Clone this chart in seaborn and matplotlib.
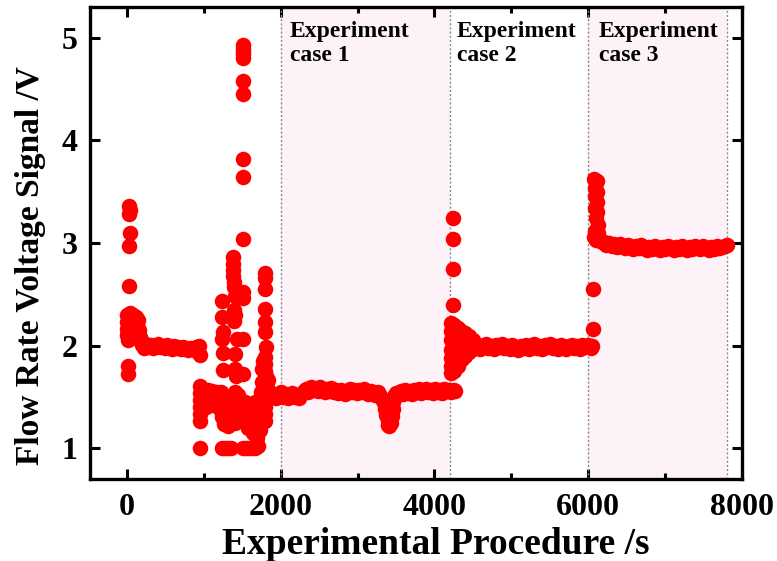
import matplotlib
matplotlib.use("Agg")
import matplotlib.pyplot as plt
import pandas as pd
import seaborn as sns

# ---------------- data (time s, voltage V) ----------------
startup = [(30, 3.36), (35, 3.32), (30, 3.28), (35, 3.10), (30, 2.97), (30, 2.58),
           (15, 1.80), (10, 1.72),
           (0, 2.30), (0, 2.23), (5, 2.16), (5, 2.10), (10, 2.05),
           (40, 2.32), (45, 2.25), (40, 2.18), (45, 2.12),
           (80, 2.30), (85, 2.22), (80, 2.15), (85, 2.09),
           (120, 2.28), (125, 2.21), (120, 2.14), (125, 2.08),
           (150, 2.25), (160, 2.15), (170, 2.08), (185, 2.04), (200, 2.01)]

plateau_1 = [(220, 1.98), (250, 2.02), (280, 1.99), (310, 2.01), (340, 1.98), (370, 2.00),
             (400, 2.02), (430, 1.99), (460, 2.00), (490, 1.98), (520, 2.01), (550, 1.99),
             (580, 1.97), (610, 2.00), (640, 1.98), (670, 1.99), (700, 1.97), (730, 1.99),
             (760, 1.98), (790, 1.96), (820, 1.98), (850, 1.97), (880, 1.96), (900, 1.99),
             (920, 1.94), (940, 2.00), (950, 1.91)]

transition = [
    (945, 1.61), (950, 1.54), (945, 1.47), (950, 1.40), (955, 1.33), (950, 1.27), (950, 1.00),
    (990, 1.56), (1020, 1.53), (1050, 1.57), (1080, 1.54), (1110, 1.56), (1140, 1.53),
    (1170, 1.55), (1200, 1.52),
    (1000, 1.45), (1030, 1.40), (1060, 1.46), (1120, 1.42), (1200, 1.44), (1220, 1.36),
    (1240, 1.30), (1260, 1.24), (1280, 1.45), (1300, 1.35), (1310, 1.22), (1340, 1.28),
    (1360, 1.40), (1380, 1.32), (1400, 1.25), (1420, 1.45), (1440, 1.36), (1460, 1.28),
    (1480, 1.42), (1230, 1.55), (1260, 1.50), (1330, 1.50), (1400, 1.55), (1450, 1.52),
    (1235, 2.43), (1240, 2.28), (1245, 2.13), (1240, 2.06), (1250, 1.93), (1245, 1.76),
    (1380, 2.86), (1385, 2.80), (1380, 2.74), (1385, 2.68), (1390, 2.62), (1390, 2.57),
    (1400, 2.48), (1395, 2.35), (1405, 2.30), (1395, 2.24), (1430, 2.06), (1410, 1.92),
    (1400, 1.77), (1420, 1.70),
    (1505, 4.93), (1510, 4.90), (1505, 4.87), (1510, 4.84), (1505, 4.80), (1505, 4.58),
    (1510, 4.45), (1505, 3.82), (1505, 3.64), (1510, 3.04), (1505, 2.52), (1510, 2.46),
    (1515, 2.06), (1510, 1.72),
    (1240, 1.00), (1280, 1.00), (1320, 1.00), (1350, 1.00), (1510, 1.00), (1550, 1.00),
    (1590, 1.00), (1630, 1.00), (1670, 1.00), (1700, 1.02), (1730, 1.18), (1690, 1.10),
    (1530, 1.45), (1550, 1.30), (1570, 1.20), (1600, 1.38), (1620, 1.25), (1640, 1.15),
    (1660, 1.45), (1680, 1.32), (1700, 1.22), (1720, 1.40), (1740, 1.55), (1750, 1.30),
    (1760, 1.65), (1770, 1.45),
    (1795, 2.71), (1800, 2.66), (1795, 2.55), (1800, 2.36), (1795, 2.23), (1800, 2.13),
    (1805, 1.99), (1790, 1.89), (1800, 1.82), (1790, 1.75), (1810, 1.70), (1795, 1.64),
    (1810, 1.58), (1790, 1.52), (1805, 1.46), (1795, 1.40), (1790, 1.33), (1800, 1.27),
    (1820, 1.60), (1830, 1.55), (1830, 1.66), (1760, 1.77), (1770, 1.85)]

case_1 = [(1850, 1.55), (1880, 1.50), (1910, 1.53), (1940, 1.49), (1970, 1.52), (2000, 1.55),
          (2030, 1.50), (2060, 1.53), (2090, 1.49), (2120, 1.52), (2150, 1.54), (2180, 1.50),
          (2210, 1.52), (2240, 1.49), (2270, 1.53), (2300, 1.56), (2330, 1.58), (2360, 1.55),
          (2390, 1.60), (2420, 1.57), (2450, 1.59), (2480, 1.56), (2510, 1.60), (2540, 1.58),
          (2570, 1.55), (2600, 1.58), (2630, 1.56), (2660, 1.59), (2690, 1.55), (2720, 1.57),
          (2750, 1.54), (2780, 1.57), (2810, 1.55), (2840, 1.53), (2870, 1.56), (2900, 1.58),
          (2930, 1.55), (2960, 1.57), (2990, 1.54), (3020, 1.57), (3050, 1.55), (3080, 1.58),
          (3110, 1.55), (3140, 1.53), (3170, 1.56), (3200, 1.54), (3230, 1.52), (3260, 1.55),
          (3290, 1.51), (3320, 1.48), (3340, 1.44), (3360, 1.38), (3375, 1.32), (3390, 1.27),
          (3400, 1.23), (3415, 1.22), (3430, 1.25), (3445, 1.31), (3455, 1.38), (3465, 1.45),
          (3480, 1.51), (3500, 1.54), (3530, 1.52), (3560, 1.56), (3590, 1.53), (3620, 1.57),
          (3650, 1.54), (3680, 1.56), (3710, 1.53), (3740, 1.57), (3770, 1.55), (3800, 1.58),
          (3830, 1.54), (3860, 1.56), (3890, 1.58), (3920, 1.55), (3950, 1.57), (3980, 1.54),
          (4010, 1.58), (4040, 1.55), (4070, 1.57), (4100, 1.54), (4130, 1.58), (4160, 1.56),
          (4190, 1.57), (4220, 1.55), (4250, 1.57), (4270, 1.56)]

case_2 = [(4240, 3.24), (4240, 3.04), (4235, 2.75), (4240, 2.40),
          (4210, 2.22), (4215, 2.14), (4210, 2.05), (4215, 1.96), (4210, 1.88), (4215, 1.80),
          (4210, 1.73), (4250, 2.20), (4255, 2.10), (4250, 2.00), (4255, 1.90), (4250, 1.82),
          (4260, 1.75), (4300, 2.17), (4300, 2.08), (4305, 1.98), (4300, 1.89), (4310, 1.80),
          (4350, 2.14), (4355, 2.05), (4350, 1.96), (4355, 1.87), (4400, 2.12), (4400, 2.04),
          (4405, 1.96), (4400, 1.90), (4450, 2.09), (4455, 2.01), (4450, 1.94), (4500, 2.05),
          (4500, 1.97), (4530, 2.02),
          (4560, 2.01), (4595, 1.97), (4630, 2.00), (4665, 2.02), (4700, 1.98), (4735, 2.00),
          (4770, 1.97), (4805, 2.01), (4840, 1.99), (4875, 2.02), (4910, 1.98), (4945, 2.00),
          (4980, 1.97), (5015, 2.01), (5050, 1.99), (5085, 1.96), (5120, 2.00), (5155, 1.98),
          (5190, 2.01), (5225, 1.97), (5260, 2.00), (5295, 2.02), (5330, 1.98), (5365, 2.00),
          (5400, 1.97), (5435, 2.01), (5470, 1.99), (5505, 2.02), (5540, 1.98), (5575, 2.00),
          (5610, 1.97), (5645, 2.01), (5680, 1.99), (5715, 1.97), (5750, 2.00), (5785, 2.01),
          (5820, 1.98), (5855, 2.00), (5890, 1.97), (5925, 2.01), (5960, 1.99), (5995, 2.01),
          (6030, 1.98), (6050, 2.00)]

case_3 = [(6060, 2.55), (6065, 2.16),
          (6080, 3.62), (6110, 3.60), (6090, 3.54), (6120, 3.50), (6085, 3.46), (6115, 3.40),
          (6090, 3.34), (6120, 3.30), (6095, 3.24), (6125, 3.18), (6090, 3.12), (6130, 3.10),
          (6070, 3.06), (6100, 3.03), (6150, 3.03), (6180, 3.01),
          (6200, 3.01), (6235, 2.98), (6270, 3.00), (6305, 2.97), (6340, 2.99), (6375, 2.96),
          (6410, 2.99), (6445, 2.97), (6480, 2.95), (6515, 2.98), (6550, 2.96), (6585, 2.94),
          (6620, 2.97), (6655, 2.95), (6690, 2.98), (6725, 2.95), (6760, 2.93), (6795, 2.96),
          (6830, 2.94), (6865, 2.97), (6900, 2.95), (6935, 2.93), (6970, 2.96), (7005, 2.94),
          (7040, 2.97), (7075, 2.95), (7110, 2.93), (7145, 2.96), (7180, 2.94), (7215, 2.97),
          (7250, 2.95), (7285, 2.93), (7320, 2.96), (7355, 2.94), (7390, 2.97), (7425, 2.95),
          (7460, 2.94), (7495, 2.97), (7530, 2.95), (7565, 2.93), (7600, 2.96), (7635, 2.94),
          (7670, 2.97), (7705, 2.95), (7740, 2.96), (7775, 2.97), (7800, 2.98)]

case_bounds = [2000, 4200, 6000, 7800]
shaded = [(2000, 4200), (6000, 7800)]
case_labels = ["Experiment\ncase 1", "Experiment\ncase 2", "Experiment\ncase 3"]
case_label_x = [2120, 4290, 6140]
x_ticks = [0, 2000, 4000, 6000, 8000]
x_minor = [1000, 3000, 5000, 7000]
y_ticks = [1, 2, 3, 4, 5]

# ---------------- figure ----------------
sns.set_style("ticks")
plt.rcParams["font.family"] = ["Liberation Serif", "DejaVu Serif"]
plt.rcParams["font.weight"] = "bold"
for key in ["text.color", "axes.labelcolor", "xtick.color", "ytick.color", "axes.edgecolor"]:
    plt.rcParams[key] = "black"

rows = startup + plateau_1 + transition + case_1 + case_2 + case_3
df = pd.DataFrame(rows, columns=["time", "volt"])

fig = plt.figure(figsize=(7.77, 5.61), dpi=100)
ax = fig.add_axes([90 / 777, 1 - 479 / 561, (742 - 90) / 777, (479 - 7) / 561])

for a, b in shaded:
    ax.axvspan(a, b, color="#fdf2f8", lw=0, zorder=0)
for xb in case_bounds:
    ax.axvline(xb, color="#8a8a8a", lw=1.0, ls=(0, (1.5, 1.5)), zorder=1)

sns.scatterplot(data=df, x="time", y="volt", color="#ff0000", s=125, linewidth=0,
                ax=ax, zorder=3, legend=False)

for lx, lab in zip(case_label_x, case_labels):
    ax.text(lx, 5.16, lab, ha="left", va="top", fontsize=17, fontweight="bold",
            color="black", zorder=4, linespacing=1.15)

ax.set_xlim(-480, 8000)
ax.set_ylim(0.7, 5.3)
ax.set_xticks(x_ticks)
ax.set_xticks(x_minor, minor=True)
ax.set_yticks(y_ticks)
ax.set_xticklabels([str(v) for v in x_ticks])
ax.set_yticklabels([str(v) for v in y_ticks])

ax.tick_params(axis="both", which="major", direction="in", top=True, right=True,
               length=7, width=2.2, labelsize=23, colors="black")
ax.tick_params(axis="x", which="minor", direction="in", top=True, length=4, width=2.2)
ax.tick_params(axis="x", which="major", pad=10)
ax.tick_params(axis="y", which="major", pad=9)
for sp in ax.spines.values():
    sp.set_linewidth(2.4)
    sp.set_visible(True)
    sp.set_color("black")

ax.set_xlabel("Experimental Procedure /s", fontsize=27, fontweight="bold", color="black")
ax.set_ylabel("Flow Rate Voltage Signal /V", fontsize=24, fontweight="bold", color="black")
ax.xaxis.set_label_coords(0.531, -0.102)
ax.yaxis.set_label_coords(-0.068, 0.453)

fig.savefig("out.png", dpi=100)
